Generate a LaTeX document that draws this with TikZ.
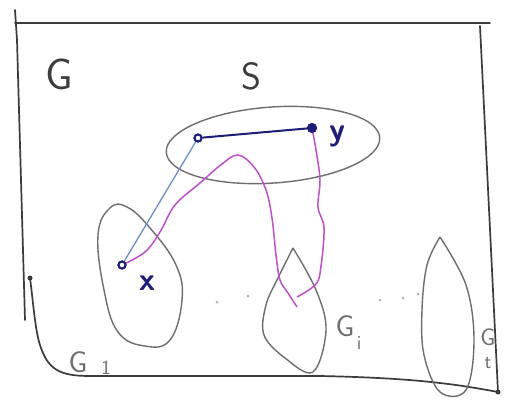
\documentclass[tikz,border=0pt]{standalone}
\usetikzlibrary{shapes.geometric}
\definecolor{pinkc}{RGB}{190,80,200}
\definecolor{navy}{RGB}{30,30,120}
\definecolor{lightb}{RGB}{110,140,200}
\definecolor{pencil}{RGB}{60,60,60}
\definecolor{blobc}{RGB}{110,110,110}
\begin{document}
\begin{tikzpicture}[x=1pt,y=-1pt,
  frame/.style={draw=pencil,line width=1.7pt,line cap=round,line join=round},
  blob/.style={draw=blobc,line width=1.4pt},
  vopen/.style={circle,draw=navy,line width=2pt,fill=white,minimum size=7pt,inner sep=0pt},
  vfull/.style={circle,fill=navy,minimum size=10pt,inner sep=0pt},
  lbl/.style={font=\sffamily\fontsize{44}{44}\selectfont,text=pencil},
  vlbl/.style={font=\sffamily\bfseries\fontsize{32}{32}\selectfont,text=navy},
  sub/.style={font=\sffamily\fontsize{30}{30}\selectfont,text=blobc},
  subs/.style={font=\sffamily\fontsize{20}{20}\selectfont,text=blobc},
  pinkpath/.style={draw=pinkc,line width=1.5pt},
  dotg/.style={circle,fill=black!30,inner sep=0pt,minimum size=3pt}]
\useasboundingbox[fill=white] (0,0) rectangle (507,405);
% frame
\draw[frame] (15,10) -- (17,40) -- (25,320);
\draw[frame] (15,23) -- (490,23);
\draw[frame] (480,26) -- (498,392);
\draw[frame] (30,278) .. controls (33,300) and (35,330) .. (40,345) .. controls (48,370) and (60,376) .. (90,376) -- (320,376) .. controls (420,378) and (460,385) .. (498,392);
\fill[pencil] (30,278) circle (2.5pt);
\fill[pencil] (498,392) circle (2.5pt);
% labels G, S
\node[lbl] (G) at (59,74) {G};
\node[lbl,font=\sffamily\fontsize{38}{38}\selectfont] (S) at (251,76) {S};
% S ellipse
\draw[blob,rotate around={4:(273,145)}] (273,145) ellipse [x radius=107pt, y radius=38pt];
% blobs
\draw[blob] plot[smooth cycle,tension=0.7] coordinates {(110,208) (98,235) (104,290) (118,332) (145,346) (170,340) (182,300) (176,265) (150,228) (127,207)};
\draw[blob] plot[smooth,tension=0.6] coordinates {(293,248) (278,278) (266,305) (264,335) (285,358) (313,372) (326,330) (316,290) (293,248)};
\draw[blob] plot[smooth,tension=0.6] coordinates {(440,237) (427,265) (422,310) (424,355) (440,392) (466,390) (474,340) (466,285) (440,237)};
% labels of blobs
\node[sub] (G1) at (78,362) {G};
\node[subs] (G1s) at (106,368) {1};
\node[sub] (Gi) at (345,326) {G};
\node[subs] (Gis) at (359,343) {i};
\node[sub,font=\sffamily\fontsize{24}{24}\selectfont] (Gt) at (488,337) {G};
\node[subs] (Gts) at (488,363) {t};
% dots
\foreach \p in {(217,302),(248,296),(380,300),(403,298),(418,294)}
  \node[dotg] at \p {};
% vertices
\coordinate (m) at (297,303);
\node[vopen] (x) at (122,265) {};
\node[vopen] (u) at (198,138) {};
\node[vfull] (y) at (312,128) {};
% pink paths
\draw[pinkpath] plot[smooth,tension=0.6] coordinates {(x) (145,252) (160,232) (175,205) (200,183) (222,164) (238,155) (254,167) (266,190) (272,218) (276,255) (280,280) (288,293) (297,307)};
\draw[pinkpath] plot[smooth,tension=0.6] coordinates {(y) (316,150) (320,180) (318,207) (324,228) (321,266) (316,284) (297,297)};
% blue edges
\draw[lightb,line width=1.3pt] (u) -- (x);
\draw[navy,line width=2pt] (u) -- (y);
% redraw vertices on top
\node[vopen] at (x) {};
\node[vopen] at (u) {};
\node[vfull] at (y) {};
\node[vlbl] (xl) at (147,283) {x};
\node[vlbl] (yl) at (337,136) {y};
\end{tikzpicture}
\end{document}
